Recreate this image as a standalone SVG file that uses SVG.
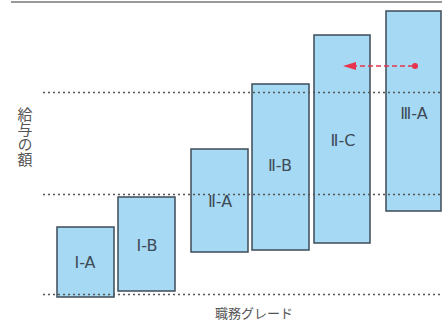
<svg xmlns="http://www.w3.org/2000/svg" width="442" height="325" viewBox="0 0 442 325">
<defs>
<style>
.box{fill:#a6d9f3;stroke:#3d4b57;stroke-width:1.5}
.lbl{font-family:"DejaVu Sans","Noto Sans CJK JP",sans-serif;font-size:16px;fill:#3d4b57;text-anchor:middle}
.axis{font-family:"Noto Sans CJK JP",sans-serif;font-size:13px;fill:#555}
.dot{stroke:#555;stroke-width:1.3;stroke-dasharray:2 3;fill:none}
</style>
</defs>
<rect width="442" height="325" fill="#fff"/>
<line x1="11" y1="2" x2="442" y2="2" stroke="#777" stroke-width="1.5"/>
<g id="I-A"><rect class="box" x="57" y="227" width="57" height="70"/><text class="lbl" x="85" y="268">Ⅰ-A</text></g>
<g id="I-B"><rect class="box" x="118" y="197" width="57" height="94"/><text class="lbl" x="147" y="251">Ⅰ-B</text></g>
<g id="II-A"><rect class="box" x="191" y="149" width="57" height="103"/><text class="lbl" x="220" y="207">Ⅱ-A</text></g>
<g id="II-B"><rect class="box" x="252" y="84" width="57" height="166"/><text class="lbl" x="280" y="171">Ⅱ-B</text></g>
<g id="II-C"><rect class="box" x="314" y="35" width="56" height="208"/><text class="lbl" x="343" y="146">Ⅱ-C</text></g>
<g id="III-A"><rect class="box" x="386" y="11" width="55" height="200"/><text class="lbl" x="414" y="119">Ⅲ-A</text></g>
<g id="connectors">
<line class="dot" x1="43" y1="92.5" x2="442" y2="92.5"/>
<line class="dot" x1="43" y1="194.5" x2="442" y2="194.5"/>
<line class="dot" x1="43" y1="294.5" x2="442" y2="294.5"/>
<line x1="413" y1="66" x2="354" y2="66" stroke="#e8344e" stroke-width="1.5" stroke-dasharray="5 3"/>
<polygon points="343,66 356,62 356,70" fill="#e8344e"/>
<circle cx="415" cy="66" r="3" fill="#e8344e"/>
</g>
<text id="ylabel" class="axis" x="25" y="107" style="writing-mode:vertical-rl;font-size:15px">給与の額</text>
<text id="xlabel" class="axis" x="215" y="318">職務グレード</text>
</svg>
